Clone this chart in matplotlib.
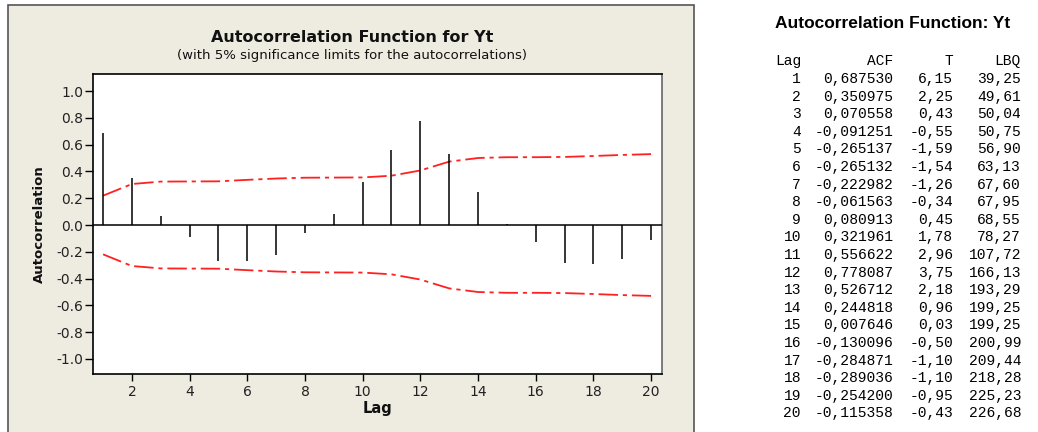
import matplotlib
matplotlib.use("Agg")
import matplotlib.pyplot as plt
from matplotlib.patches import Rectangle
from matplotlib.ticker import FormatStrFormatter

# Autocorrelation output for Yt
lags = list(range(1, 21))
acf = [0.687530, 0.350975, 0.070558, -0.091251, -0.265137, -0.265132,
       -0.222982, -0.061563, 0.080913, 0.321961, 0.556622, 0.778087,
       0.526712, 0.244818, 0.007646, -0.130096, -0.284871, -0.289036,
       -0.254200, -0.115358]
t_stat = [6.15, 2.25, 0.43, -0.55, -1.59, -1.54, -1.26, -0.34, 0.45, 1.78,
          2.96, 3.75, 2.18, 0.96, 0.03, -0.50, -1.10, -1.10, -0.95, -0.43]
lbq = [39.25, 49.61, 50.04, 50.75, 56.90, 63.13, 67.60, 67.95, 68.55, 78.27,
       107.72, 166.13, 193.29, 199.25, 199.25, 200.99, 209.44, 218.28,
       225.23, 226.68]
# 5% significance limits for each lag
limits = [0.219, 0.306, 0.324, 0.325, 0.326, 0.337, 0.347, 0.353, 0.354,
          0.355, 0.368, 0.407, 0.473, 0.500, 0.506, 0.506, 0.508, 0.515,
          0.523, 0.529]
x_ticks = [2, 4, 6, 8, 10, 12, 14, 16, 18, 20]
y_ticks = [1.0, 0.8, 0.6, 0.4, 0.2, 0.0, -0.2, -0.4, -0.6, -0.8, -1.0]

plt.rcParams["axes.unicode_minus"] = False
plt.rcParams["lines.scale_dashes"] = False

W, H = 1038, 432
fig = plt.figure(figsize=(W / 100, H / 100), dpi=100)
fig.patch.set_facecolor("white")

def fx(px):
    return px / W

def fy(py):
    return 1 - py / H

# Beige graph panel
fig.patches.append(Rectangle((fx(8), -0.05), fx(694) - fx(8), fy(5) + 0.05,
                             transform=fig.transFigure, facecolor="#EEEBE1",
                             edgecolor="#555555", lw=1.2, zorder=-10))

ax = fig.add_axes([fx(93), fy(374), fx(662) - fx(93), fy(74) - fy(374)])
ax.set_zorder(5)
ax.set_facecolor("white")
ax.set_xlim(0.65, 20.38)
ax.set_ylim(-1.112, 1.127)

upper = limits
lower = [-v for v in limits]
dash = (14, 3.5, 3, 3.5)
ax.plot(lags, upper, color="#FF2020", lw=1.3, dashes=dash, zorder=2)
ax.plot(lags, lower, color="#FF2020", lw=1.3, dashes=dash, zorder=2)
ax.vlines(lags, 0, acf, color="black", lw=1.1, zorder=3)
ax.axhline(0, color="black", lw=1.1, zorder=3)

ax.set_xticks(x_ticks)
ax.set_yticks(y_ticks)
ax.yaxis.set_major_formatter(FormatStrFormatter("%.1f"))
ax.tick_params(axis="y", direction="out", length=6, width=1, pad=1,
               labelsize=10, colors="black", labelcolor="#222222")
ax.tick_params(axis="x", direction="out", length=5, width=1, pad=3,
               labelsize=10, colors="black", labelcolor="#222222")
for side in ["left", "top", "bottom"]:
    ax.spines[side].set_linewidth(1.2)
    ax.spines[side].set_color("black")
ax.spines["right"].set_color("#666666")
ax.spines["right"].set_linewidth(1.2)

fig.text(fx(352), fy(37), "Autocorrelation Function for Yt", ha="center",
         va="center", fontsize=11.5, fontweight="bold", color="#111111",
         family="DejaVu Sans")
fig.text(fx(352), fy(56), "(with 5% significance limits for the autocorrelations)",
         ha="center", va="center", fontsize=9.5, color="#111111",
         family="DejaVu Sans")
fig.text(fx(39), fy(224), "Autocorrelation", rotation=90, ha="center",
         va="center", fontsize=9.5, fontweight="bold", color="#111111")
fig.text(fx(378), fy(409), "Lag", ha="center", va="center", fontsize=10.5,
         fontweight="bold", color="#111111")

# Session-window table
fig.text(fx(775), fy(24), "Autocorrelation Function: Yt", ha="left",
         va="center", fontsize=12.5, fontweight="bold",
         family="Liberation Sans", color="black")

mono = dict(family="Liberation Mono", fontsize=10.5, color="black", va="center")
col_lag, col_acf, col_t, col_q = 801, 893, 953, 1021
row0, step = 79, 17.6
fig.text(fx(775), fy(61), "Lag", ha="left", **mono)
fig.text(fx(col_acf), fy(61), "ACF", ha="right", **mono)
fig.text(fx(col_t), fy(61), "T", ha="right", **mono)
fig.text(fx(col_q), fy(61), "LBQ", ha="right", **mono)

for i, lag in enumerate(lags):
    y = fy(row0 + i * step)
    fig.text(fx(col_lag), y, str(lag), ha="right", **mono)
    fig.text(fx(col_acf), y, f"{acf[i]:.6f}".replace(".", ","), ha="right", **mono)
    fig.text(fx(col_t), y, f"{t_stat[i]:.2f}".replace(".", ","), ha="right", **mono)
    fig.text(fx(col_q), y, f"{lbq[i]:.2f}".replace(".", ","), ha="right", **mono)

fig.savefig("out.png", dpi=100)
